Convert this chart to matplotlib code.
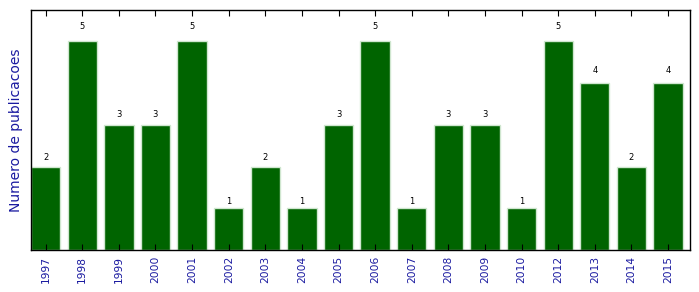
import matplotlib
matplotlib.use("Agg")
import matplotlib.pyplot as plt
import numpy as np

years = ["1997", "1998", "1999", "2000", "2001", "2002", "2003", "2004", "2005",
         "2006", "2007", "2008", "2009", "2010", "2012", "2013", "2014", "2015"]
counts = [2, 5, 3, 3, 5, 1, 2, 1, 3, 5, 1, 3, 3, 1, 5, 4, 2, 4]

fig = plt.figure(figsize=(6.99, 2.92), dpi=100)
ax = fig.add_axes([31/699, 1 - 250/292, (690-31)/699, (250-10)/292])

x = np.arange(len(years))
ax.bar(x, counts, width=0.8, color="#006400", edgecolor="#cfe6cf", linewidth=1.0)
for xi, v in zip(x, counts):
    ax.text(xi, v * 1.05, str(v), ha="center", va="bottom", fontsize=6, color="black")

ax.set_xlim(-0.4, len(years) - 0.4)
ax.set_ylim(0, max(counts) * 1.15)
ax.set_yticks([])
ax.set_xticks(x)
ax.set_xticklabels(years, rotation=90, fontsize=7.7, color="#1a1aa0")
ax.tick_params(axis="x", direction="in", top=True, bottom=True, length=4, width=0.8, pad=4)
ax.set_ylabel("Numero de publicacoes", fontsize=10, color="#1a1aa0", labelpad=6)
for s in ax.spines.values():
    s.set_linewidth(1.0)
    s.set_color("black")

fig.savefig("out.png", dpi=100)
